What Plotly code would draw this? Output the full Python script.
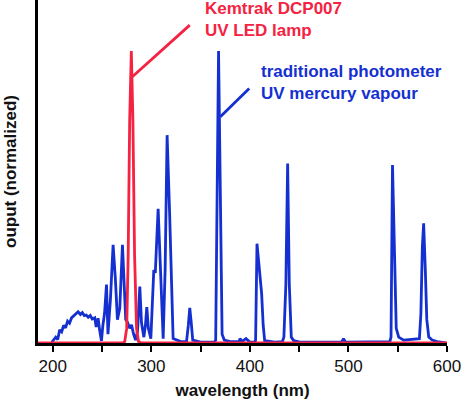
import plotly.graph_objects as go

# Mercury vapour lamp spectrum (blue)
hg_wavelength = [
    199, 200, 203, 205, 207, 209, 211, 213, 215, 217, 219, 221, 223, 225.7, 228, 230, 232, 234, 236,
    238, 240, 242.6, 244, 246, 247.5, 249.4, 250.8, 252.5, 254.5, 256, 258.5, 261.2, 263.5, 265.6, 268,
    270.7, 274, 276, 278, 279.9, 282, 284, 286, 288.3, 290, 292.4, 294, 295.4, 297, 299.5, 302.5, 304,
    306.9, 309, 312, 314, 316, 318.5, 320, 322.1, 330, 335.7, 337.5, 339, 340.5, 342, 350, 364, 365.3,
    368.2, 371.8, 374, 380, 389, 390, 392, 396, 398, 400, 405, 405.8, 407.2, 409, 411.9, 413.5, 415,
    425, 433, 434.5, 436.5, 438.3, 440, 442, 444.5, 450, 493, 495, 497, 542, 543.2, 544.7, 546.5, 548.5,
    551, 556, 572, 573.5, 575, 576.3, 578, 579.5, 581.5, 585, 590, 597, 599,
]
hg_output = [
    0.0, 0.007, 0.02, 0.012, 0.045, 0.038, 0.06, 0.052, 0.075, 0.068, 0.086, 0.092, 0.1, 0.107, 0.098, 0.104, 0.094, 0.096, 0.088,
    0.094, 0.082, 0.086, 0.055, 0.085, 0.045, 0.007, 0.06, 0.1, 0.2, 0.03, 0.15, 0.336, 0.22, 0.08, 0.12,
    0.336, 0.08, 0.07, 0.05, 0.062, 0.03, 0.01, 0.04, 0.193, 0.07, 0.02, 0.06, 0.123, 0.05, 0.015, 0.25, 0.24,
    0.46, 0.25, 0.015, 0.25, 0.712, 0.45, 0.25, 0.015, 0.005, 0.005, 0.06, 0.12, 0.07, 0.01, 0.003, 0.003, 0.01,
    1.0, 0.03, 0.01, 0.005, 0.005, 0.015, 0.005, 0.015, 0.01, 0.003, 0.003, 0.01, 0.34, 0.27, 0.17, 0.06, 0.008,
    0.003, 0.005, 0.02, 0.2, 0.615, 0.2, 0.02, 0.008, 0.004, 0.003, 0.015, 0.003, 0.005, 0.02, 0.61, 0.3, 0.05,
    0.02, 0.01, 0.015, 0.1, 0.33, 0.41, 0.25, 0.08, 0.02, 0.01, 0.005, 0.003, 0.0,
]

# UV LED lamp spectrum (red)
led_wavelength = [185, 271, 273, 275, 276.5, 278, 279.7, 281.3, 283, 285, 287, 290, 600]
led_output = [0.0, 0.0, 0.005, 0.05, 0.3, 0.76, 1.0, 0.76, 0.3, 0.05, 0.005, 0.0, 0.0]

x_tickvals = [200, 250, 300, 350, 400, 450, 500, 550, 600]
x_ticktext = ["200", "", "300", "", "400", "", "500", "", "600"]

BLUE = "#1530d0"
RED = "#f52242"
FONT = "Liberation Sans, Arial, sans-serif"

fig = go.Figure()
fig.add_trace(go.Scatter(x=hg_wavelength, y=hg_output, mode="lines",
                         line=dict(color=BLUE, width=2.8), showlegend=False))
fig.add_trace(go.Scatter(x=led_wavelength, y=led_output, mode="lines",
                         line=dict(color=RED, width=2.8), showlegend=False))

# pointer lines
fig.add_shape(type="line", x0=280.7, y0=0.912, x1=339, y1=1.089,
              line=dict(color=RED, width=2.8))
fig.add_shape(type="line", x0=370.0, y0=0.775, x1=399.3, y1=0.872,
              line=dict(color=BLUE, width=2.8))

fig.add_annotation(x=352.5, y=1.108, xanchor="left", yanchor="middle", showarrow=False,
                   text="<b>Kemtrak DCP007<br>UV LED lamp</b>", align="left",
                   font=dict(family=FONT, size=17, color=RED))
fig.add_annotation(x=409.5, y=0.892, xanchor="left", yanchor="middle", showarrow=False,
                   text="<b>traditional photometer<br>UV mercury vapour</b>", align="left",
                   font=dict(family=FONT, size=17, color=BLUE))

fig.update_layout(
    width=464, height=403,
    margin=dict(l=38, r=17, t=0, b=60),
    paper_bgcolor="white", plot_bgcolor="white",
    font=dict(family=FONT, size=17, color="#111111"),
    xaxis=dict(range=[185, 600], showline=True, linecolor="black", linewidth=2.5,
               showgrid=False, zeroline=False, ticks="outside", ticklen=6, tickwidth=2,
               tickcolor="black", tickvals=x_tickvals, ticktext=x_ticktext, automargin=False,
               tickfont=dict(family=FONT, size=17, color="#111111"),
               title=dict(text="<b>wavelength (nm)</b>", standoff=9,
                          font=dict(family=FONT, size=17, color="#111111"))),
    yaxis=dict(range=[0, 1.175], showline=True, linecolor="black", linewidth=2.5,
               showgrid=False, zeroline=False, showticklabels=False, ticks="", automargin=False,
               title=dict(text="<b>ouput (normalized)</b>", standoff=15,
                          font=dict(family=FONT, size=17, color="#111111"))),
)
fig.update_xaxes(tickprefix="<b>", ticksuffix="</b>")

fig.write_html("out.html", config={"displayModeBar": False},
               post_script="document.body.style.margin='0';")
